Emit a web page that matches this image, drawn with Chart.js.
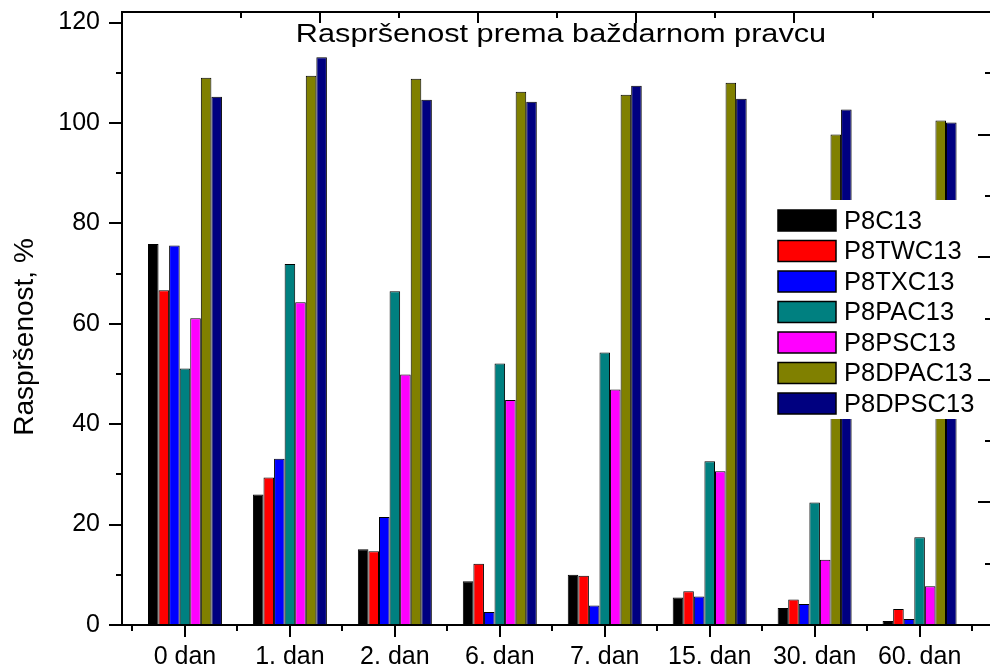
<!DOCTYPE html>
<html>
<head>
<meta charset="utf-8">
<script src="https://cdn.jsdelivr.net/npm/chart.js@4/dist/chart.umd.min.js"></script>
<style>
html,body{margin:0;padding:0;background:#fff;overflow:hidden;}
#wrap{width:1000px;height:667px;}
</style>
</head>
<body>
<div id="wrap"><canvas id="c" width="1000" height="667"></canvas></div>
<script>
const categories = ['0 dan', '1. dan', '2. dan', '6. dan', '7. dan', '15. dan', '30. dan', '60. dan'];
const seriesNames = ['P8C13', 'P8TWC13', 'P8TXC13', 'P8PAC13', 'P8PSC13', 'P8DPAC13', 'P8DPSC13'];
const P8C13    = [75.9, 26.0, 15.1, 8.7, 10.0, 5.5, 3.4, 0.8];
const P8TWC13  = [66.7, 29.4, 14.7, 12.2, 9.8, 6.7, 5.1, 3.2];
const P8TXC13  = [75.6, 33.1, 21.5, 2.6, 3.9, 5.7, 4.2, 1.2];
const P8PAC13  = [51.1, 71.9, 66.5, 52.1, 54.3, 32.6, 24.4, 17.5];
const P8PSC13  = [61.1, 64.3, 49.9, 44.8, 46.9, 30.6, 13.0, 7.7];
const P8DPAC13 = [109.0, 109.4, 108.8, 106.2, 105.6, 108.0, 97.7, 100.5];
const P8DPSC13 = [105.2, 113.1, 104.6, 104.2, 107.4, 104.8, 102.7, 100.1];
const yTicks = [0, 20, 40, 60, 80, 100, 120];
const titleText = 'Raspršenost prema baždarnom pravcu';
const yTitleText = 'Raspršenost, %';

const seriesValues = [P8C13, P8TWC13, P8TXC13, P8PAC13, P8PSC13, P8DPAC13, P8DPSC13];
const colors = ['#000000', '#ff0000', '#0000ff', '#008080', '#ff00ff', '#808000', '#000080'];
const FONT = '"Liberation Sans", Arial, sans-serif';

const datasets = seriesNames.map((name, i) => ({
  label: name,
  data: seriesValues[i].map((v, k) => ({x: k, y: v})),
  backgroundColor: colors[i],
  borderColor: '#000000',
  borderWidth: 1,
  categoryPercentage: 0.705,
  barPercentage: 1.0
}));

const framePlugin = {
  id: 'frame',
  afterDatasetsDraw(chart) {
    const ctx = chart.ctx;
    ctx.save();
    ctx.font = '26px ' + FONT;
    ctx.fillStyle = '#000';
    ctx.textAlign = 'center';
    ctx.textBaseline = 'alphabetic';
    ctx.translate(561, 42);
    ctx.scale(1.18, 1);
    ctx.fillText(titleText, 0, 0);
    ctx.restore();

    ctx.save();
    ctx.fillStyle = '#fff';
    ctx.fillRect(770, 200, 206, 219);
    ctx.font = '25.5px ' + FONT;
    ctx.textAlign = 'left';
    ctx.textBaseline = 'middle';
    chart.data.datasets.forEach((ds, i) => {
      const top = 210 + i * 30.5;
      ctx.fillStyle = ds.backgroundColor;
      ctx.fillRect(778, top, 58, 21);
      ctx.strokeStyle = '#000';
      ctx.lineWidth = 1.5;
      ctx.strokeRect(778, top, 58, 21);
      ctx.fillStyle = '#000';
      ctx.fillText(ds.label, 844, top + 11.5);
    });
    ctx.restore();

    ctx.save();
    ctx.font = '28px ' + FONT;
    ctx.fillStyle = '#000';
    ctx.textAlign = 'center';
    ctx.textBaseline = 'alphabetic';
    ctx.translate(33, 337);
    ctx.rotate(-Math.PI / 2);
    ctx.fillText(yTitleText, 0, 0);
    ctx.restore();
  },
  afterDraw(chart) {
    const ctx = chart.ctx;
    const a = chart.chartArea;
    const x = chart.scales.x, y = chart.scales.y, x2 = chart.scales.x2, y2 = chart.scales.y2;
    ctx.save();
    ctx.strokeStyle = '#000';
    ctx.lineWidth = 2;
    ctx.lineCap = 'butt';
    ctx.beginPath();
    ctx.rect(a.left, a.top, a.right - a.left, a.bottom - a.top);
    ctx.stroke();
    ctx.beginPath();
    for (let v = 0; v <= 120; v += 10) {
      const py = Math.round(y.getPixelForValue(v));
      const len = (v % 20 === 0) ? 13 : 6;
      ctx.moveTo(a.left, py); ctx.lineTo(a.left - len, py);
    }
    for (let v = -0.5; v <= 7.5; v += 0.5) {
      const px = Math.round(x.getPixelForValue(v));
      const len = Number.isInteger(v) ? 12 : 6;
      ctx.moveTo(px, a.bottom); ctx.lineTo(px, a.bottom + len);
    }
    for (let v = 1; v < 10; v++) {
      const px = Math.round(x2.getPixelForValue(v));
      const len = (v % 2 === 0) ? 11 : 6;
      ctx.moveTo(px, a.top); ctx.lineTo(px, a.top + len);
    }
    for (let v = 0; v < 10; v++) {
      const py = Math.round(y2.getPixelForValue(v));
      const len = (v % 2 === 0) ? 14 : 7;
      ctx.moveTo(a.right, py); ctx.lineTo(a.right - len, py);
    }
    ctx.stroke();
    ctx.restore();
  }
};

new Chart(document.getElementById('c'), {
  type: 'bar',
  data: { datasets },
  options: {
    responsive: false,
    devicePixelRatio: 1,
    animation: false,
    layout: { padding: { left: 0, top: 12, right: 8, bottom: 0 } },
    plugins: { legend: { display: false }, title: { display: false }, tooltip: { enabled: false } },
    scales: {
      x: {
        type: 'linear',
        position: 'bottom',
        min: -0.6,
        max: 7.69,
        offset: false,
        grid: { display: true, drawOnChartArea: false, drawTicks: false, color: 'rgba(0,0,0,0)', offset: false },
        border: { display: false },
        ticks: {
          stepSize: 1,
          includeBounds: false,
          autoSkip: false,
          maxRotation: 0,
          padding: 17,
          color: '#000',
          font: { family: FONT, size: 25 },
          callback: (v) => Number.isInteger(v) ? categories[v] : ''
        },
        afterFit: (s) => { s.height = 42; s.paddingLeft = 0; s.paddingRight = 0; }
      },
      y: {
        type: 'linear',
        position: 'left',
        min: 0,
        max: 122.1,
        grid: { display: true, drawOnChartArea: false, drawTicks: false, color: 'rgba(0,0,0,0)' },
        border: { display: false },
        afterBuildTicks: (s) => { s.ticks = yTicks.map(v => ({ value: v })); },
        ticks: {
          padding: 22,
          color: '#000',
          font: { family: FONT, size: 25 }
        },
        afterFit: (s) => { s.width = 122; s.paddingTop = 0; s.paddingBottom = 0; }
      },
      x2: { type: 'linear', position: 'top', display: false, min: 0, max: 10 },
      y2: { type: 'linear', position: 'right', display: false, min: 0, max: 10 }
    }
  },
  plugins: [framePlugin]
});
</script>
</body>
</html>
